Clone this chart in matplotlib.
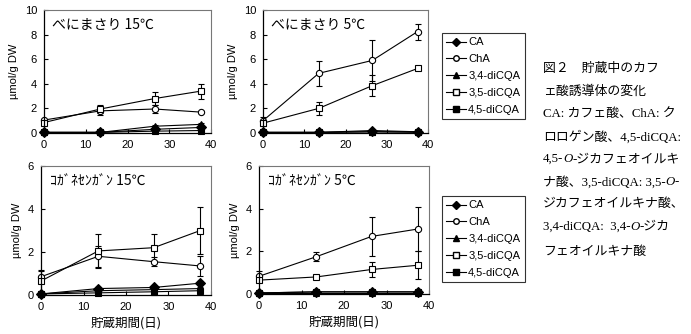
import matplotlib
matplotlib.use("Agg")
import matplotlib.pyplot as plt
from matplotlib.lines import Line2D

# storage days
days = [0, 13.5, 26.5, 37.5]

compounds = ["CA", "ChA", "3,4-diCQA", "3,5-diCQA", "4,5-diCQA"]

# (marker, face colour) for each compound
styles = {
    "CA": ("D", "black"),
    "ChA": ("o", "white"),
    "3,4-diCQA": ("^", "black"),
    "3,5-diCQA": ("s", "white"),
    "4,5-diCQA": ("s", "black"),
}

# べにまさり 15℃
beni15_mean = {
    "CA": [0.05, 0.05, 0.3, 0.45],
    "ChA": [1.05, 1.8, 1.95, 1.7],
    "3,4-diCQA": [0.05, 0.05, 0.55, 0.7],
    "3,5-diCQA": [0.85, 1.95, 2.8, 3.4],
    "4,5-diCQA": [0.05, 0.05, 0.15, 0.2],
}
beni15_err = {
    "CA": [0, 0, 0.05, 0.05],
    "ChA": [0.1, 0.35, 0.35, 0.1],
    "3,4-diCQA": [0, 0, 0.1, 0.1],
    "3,5-diCQA": [0.2, 0.3, 0.5, 0.6],
    "4,5-diCQA": [0, 0, 0.05, 0.05],
}

# べにまさり 5℃
beni5_mean = {
    "CA": [0.05, 0.05, 0.2, 0.1],
    "ChA": [1.0, 4.85, 5.9, 8.25],
    "3,4-diCQA": [0.05, 0.05, 0.1, 0.05],
    "3,5-diCQA": [0.8, 2.0, 3.85, 5.25],
    "4,5-diCQA": [0.05, 0.05, 0.1, 0.1],
}
beni5_err = {
    "CA": [0, 0, 0.05, 0],
    "ChA": [0.3, 1.0, 1.7, 0.65],
    "3,4-diCQA": [0, 0, 0, 0],
    "3,5-diCQA": [0.2, 0.55, 0.85, 0.1],
    "4,5-diCQA": [0, 0, 0, 0],
}

# コガネセンガン 15℃
kog15_mean = {
    "CA": [0.05, 0.3, 0.35, 0.55],
    "ChA": [0.85, 1.8, 1.55, 1.35],
    "3,4-diCQA": [0.05, 0.2, 0.25, 0.3],
    "3,5-diCQA": [0.65, 2.05, 2.2, 3.0],
    "4,5-diCQA": [0.05, 0.1, 0.15, 0.2],
}
kog15_err = {
    "CA": [0, 0.05, 0.05, 0.1],
    "ChA": [0.3, 0.5, 0.2, 0.45],
    "3,4-diCQA": [0, 0.05, 0.05, 0.05],
    "3,5-diCQA": [0.45, 0.8, 0.65, 1.1],
    "4,5-diCQA": [0, 0, 0, 0.05],
}

# コガネセンガン 5℃
kog5_mean = {
    "CA": [0.05, 0.1, 0.1, 0.1],
    "ChA": [0.83, 1.75, 2.7, 3.05],
    "3,4-diCQA": [0.05, 0.05, 0.05, 0.05],
    "3,5-diCQA": [0.65, 0.8, 1.15, 1.35],
    "4,5-diCQA": [0.05, 0.1, 0.1, 0.1],
}
kog5_err = {
    "CA": [0, 0, 0, 0],
    "ChA": [0.25, 0.2, 0.9, 1.05],
    "3,4-diCQA": [0, 0, 0, 0],
    "3,5-diCQA": [0.1, 0.1, 0.35, 0.65],
    "4,5-diCQA": [0, 0, 0, 0],
}

panel_titles = ["べにまさり 15℃", "べにまさり 5℃", "ｺｶﾞﾈｾﾝｶﾞﾝ 15℃", "ｺｶﾞﾈｾﾝｶﾞﾝ 5℃"]

caption_lines = [
    [("図２　貯蔵中のカフ", False)],
    [("ェ酸誘導体の変化", False)],
    [("CA: カフェ酸、ChA: ク", False)],
    [("ロロゲン酸、4,5-diCQA:", False)],
    [("4,5-", False), ("O", True), ("-ジカフェオイルキ", False)],
    [("ナ酸、3,5-diCQA: 3,5-", False), ("O", True), ("-", False)],
    [("ジカフェオイルキナ酸、", False)],
    [("3,4-diCQA:  3,4-", False), ("O", True), ("-ジカ", False)],
    [("フェオイルキナ酸", False)],
]

JP = ["Noto Sans CJK JP", "DejaVu Sans"]
SANS = ["Liberation Sans", "DejaVu Sans"]
SERIF = ["Liberation Serif", "Noto Sans CJK JP"]

plt.rcParams["font.family"] = SANS

W, H = 691, 334
fig = plt.figure(figsize=(W / 100, H / 100), dpi=100)


def px_axes(left, right, top, bottom):
    return fig.add_axes([left / W, 1 - bottom / H, (right - left) / W, (bottom - top) / H])


panels = [
    (px_axes(44, 211, 10, 133), beni15_mean, beni15_err, 10, False),
    (px_axes(263, 428, 10, 133), beni5_mean, beni5_err, 10, False),
    (px_axes(41, 211, 166, 295), kog15_mean, kog15_err, 6, True),
    (px_axes(259, 429, 166, 294), kog5_mean, kog5_err, 6, True),
]

for (ax, means, errs, ymax, bottom_row), title in zip(panels, panel_titles):
    for name in compounds:
        marker, face = styles[name]
        ax.errorbar(days, means[name], yerr=errs[name], color="black", lw=0.8,
                    marker=marker, mfc=face, mec="black", mew=0.8,
                    ms=5 if marker != "o" else 4.5,
                    capsize=2.5, elinewidth=0.8, capthick=0.8, clip_on=False)
    ax.set_xlim(0, 40)
    ax.set_ylim(0, ymax)
    ax.set_xticks([0, 10, 20, 30, 40])
    ax.set_yticks(range(0, ymax + 1, 2))
    ax.tick_params(direction="in", length=3, width=0.8, labelsize=8, pad=5,
                   top=False, right=False)
    ax.set_ylabel("µmol/g DW", fontsize=8, labelpad=4)
    for side in ["top", "right"]:
        ax.spines[side].set_color("#777777")
        ax.spines[side].set_linewidth(0.8)
    for side in ["left", "bottom"]:
        ax.spines[side].set_linewidth(0.9)
    ax.text(0.05, 0.88, title, transform=ax.transAxes, fontsize=10,
            family=JP, va="center", ha="left")
    if bottom_row:
        ax.set_xlabel("貯蔵期間(日)", fontsize=9, family=JP, labelpad=3)

# legends beside each row
handles = []
for name in compounds:
    marker, face = styles[name]
    handles.append(Line2D([], [], color="black", lw=0.8, marker=marker, mfc=face,
                          mec="black", ms=4.5 if marker != "o" else 4))

for top in (33, 196):
    leg = fig.legend(handles, compounds, loc="upper left",
                     bbox_to_anchor=(442 / W, 1 - top / H), fontsize=8,
                     frameon=True, fancybox=False, edgecolor="black",
                     borderpad=0.4, labelspacing=0.62, handlelength=1.8,
                     handletextpad=0.15, borderaxespad=0)
    leg.get_frame().set_linewidth(0.8)

# caption, built segment by segment so the O can be italic
cap_ax = fig.add_axes([0, 0, 1, 1])
cap_ax.set_axis_off()
line_y = [69, 92, 114, 137, 159, 182, 204, 227, 252]
for segs, y in zip(caption_lines, line_y):
    prev = None
    for text, italic in segs:
        style = "italic" if italic else "normal"
        if prev is None:
            prev = cap_ax.text(543 / W, 1 - y / H, text, fontsize=9.3, family=SERIF,
                               style=style, va="center", ha="left",
                               transform=cap_ax.transAxes)
        else:
            prev = cap_ax.annotate(text, xy=(1, 0.5), xycoords=prev, fontsize=9.3,
                                   family=SERIF, style=style, va="center", ha="left")

fig.savefig("out.png", dpi=100)
